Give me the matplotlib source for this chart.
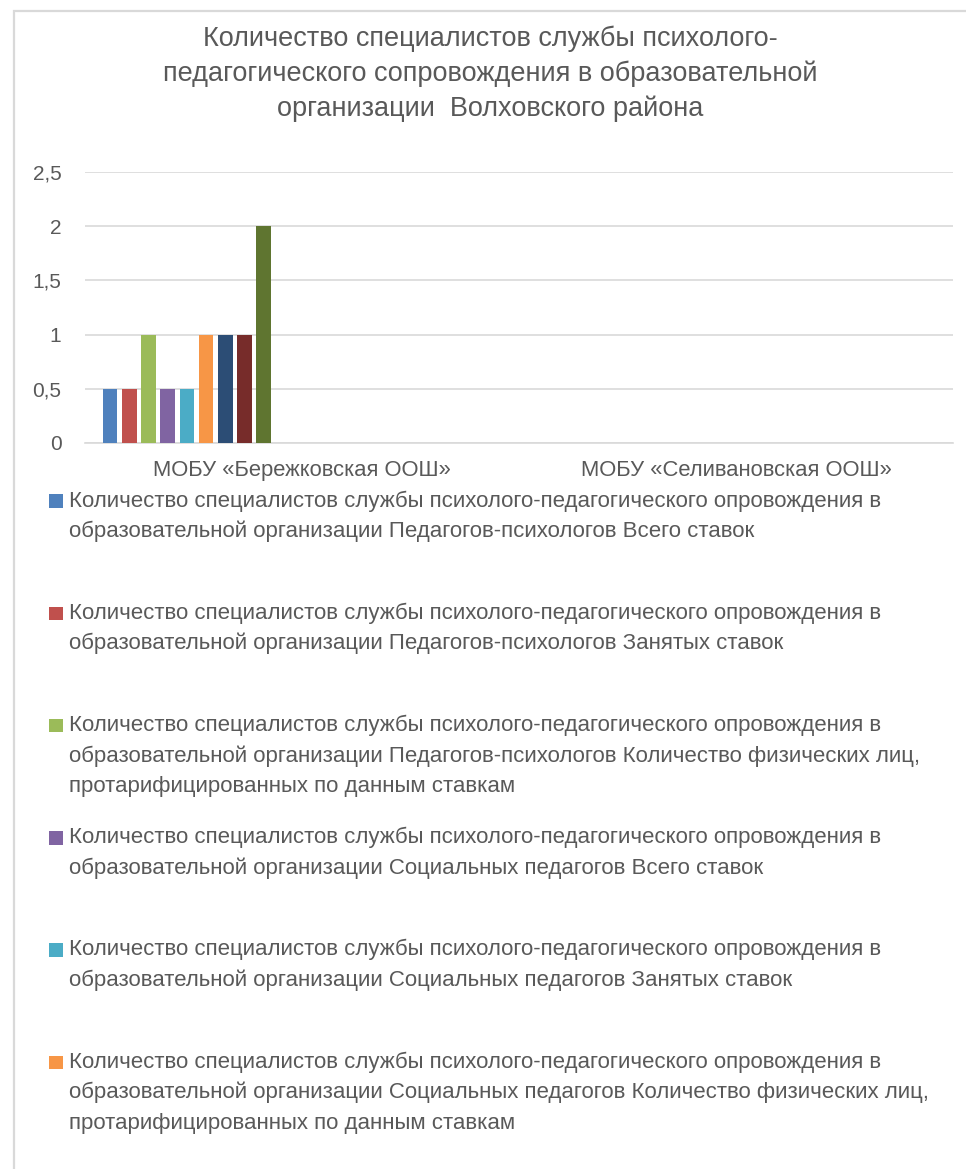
import matplotlib
matplotlib.use("Agg")
import matplotlib.pyplot as plt
from matplotlib.patches import Rectangle
import numpy as np

W, H = 966, 1169

title = ("Количество специалистов службы психолого-\n"
         "педагогического сопровождения в образовательной\n"
         "организации  Волховского района")

categories = ["МОБУ «Бережковская ООШ»", "МОБУ «Селивановская ООШ»"]

# one value per series, for each school
values_berezh = [0.5, 0.5, 1, 0.5, 0.5, 1, 1, 1, 2]
values_seliv = [0, 0, 0, 0, 0, 0, 0, 0, 0]

series_colors = ["#4F81BD", "#C0504D", "#9BBB59", "#8064A2", "#4BACC6",
                 "#F79646", "#2C4D75", "#772C2A", "#5F7530"]

# only the first six legend entries fit into the picture
legend_labels = [
    "Количество специалистов службы психолого-педагогического опровождения в\n"
    "образовательной организации Педагогов-психологов Всего ставок",
    "Количество специалистов службы психолого-педагогического опровождения в\n"
    "образовательной организации Педагогов-психологов Занятых ставок",
    "Количество специалистов службы психолого-педагогического опровождения в\n"
    "образовательной организации Педагогов-психологов Количество физических лиц,\n"
    "протарифицированных по данным ставкам",
    "Количество специалистов службы психолого-педагогического опровождения в\n"
    "образовательной организации Социальных педагогов Всего ставок",
    "Количество специалистов службы психолого-педагогического опровождения в\n"
    "образовательной организации Социальных педагогов Занятых ставок",
    "Количество специалистов службы психолого-педагогического опровождения в\n"
    "образовательной организации Социальных педагогов Количество физических лиц,\n"
    "протарифицированных по данным ставкам",
]

yticks = [0, 0.5, 1, 1.5, 2, 2.5]
ytick_labels = ["0", "0,5", "1", "1,5", "2", "2,5"]

txt = "#595959"
grid = "#d9d9d9"
fam = ["Liberation Sans", "DejaVu Sans"]
plt.rcParams["font.family"] = fam

fig = plt.figure(figsize=(W / 100, H / 100), dpi=100)
fig.patch.set_facecolor("white")

# chart frame (right and bottom edges are outside the picture)
fig.add_artist(Rectangle((14 / W, -0.1), 1.0, 1.1 - 11 / H, transform=fig.transFigure,
                         fill=False, edgecolor=grid, lw=1.6))

fig.text(490 / W, 1 - 74 / H, title, ha="center", va="center", fontsize=19.5,
         color=txt, linespacing=1.42)

ax = fig.add_axes([85 / W, 1 - 443 / H, (953 - 85) / W, (443 - 172) / H])
x = np.arange(len(categories))
n_slots = 21
pitch = 0.0442
bar_w = 0.0334
start = -pitch * n_slots / 2 + (pitch - bar_w) / 2
for i, color in enumerate(series_colors):
    vals = [values_berezh[i], values_seliv[i]]
    ax.bar(x + start + i * pitch, vals, width=bar_w, align="edge",
           color=color, linewidth=0, zorder=3)

ax.set_xlim(-0.5, 1.5)
ax.set_ylim(0, 2.5)
ax.set_yticks(yticks)
ax.set_yticklabels(ytick_labels)
ax.set_xticks(x)
ax.set_xticklabels(categories)
ax.tick_params(axis="both", length=0, colors=txt, labelsize=15)
ax.tick_params(axis="y", pad=17)
ax.tick_params(axis="x", pad=12.5, labelsize=15.8)
ax.yaxis.grid(True, color=grid, lw=1.2, zorder=0)
for s in ["top", "right", "left"]:
    ax.spines[s].set_visible(False)
ax.spines["bottom"].set_color(grid)
ax.spines["bottom"].set_linewidth(1.2)
ax.spines["bottom"].set_zorder(2)

# legend, drawn by hand like the cropped Excel legend
entry_y0 = 501
entry_step = 112.2
line_h = 30.5
for k, label in enumerate(legend_labels):
    y0 = entry_y0 + k * entry_step
    fig.add_artist(Rectangle((49 / W, 1 - (y0 + 7) / H), 14 / W, 13.5 / H,
                             transform=fig.transFigure, color=series_colors[k], lw=0))
    for j, line in enumerate(label.split("\n")):
        fig.text(69 / W, 1 - (y0 + j * line_h) / H, line, ha="left", va="center",
                 fontsize=16, color=txt)

fig.savefig("out.png", dpi=100)
